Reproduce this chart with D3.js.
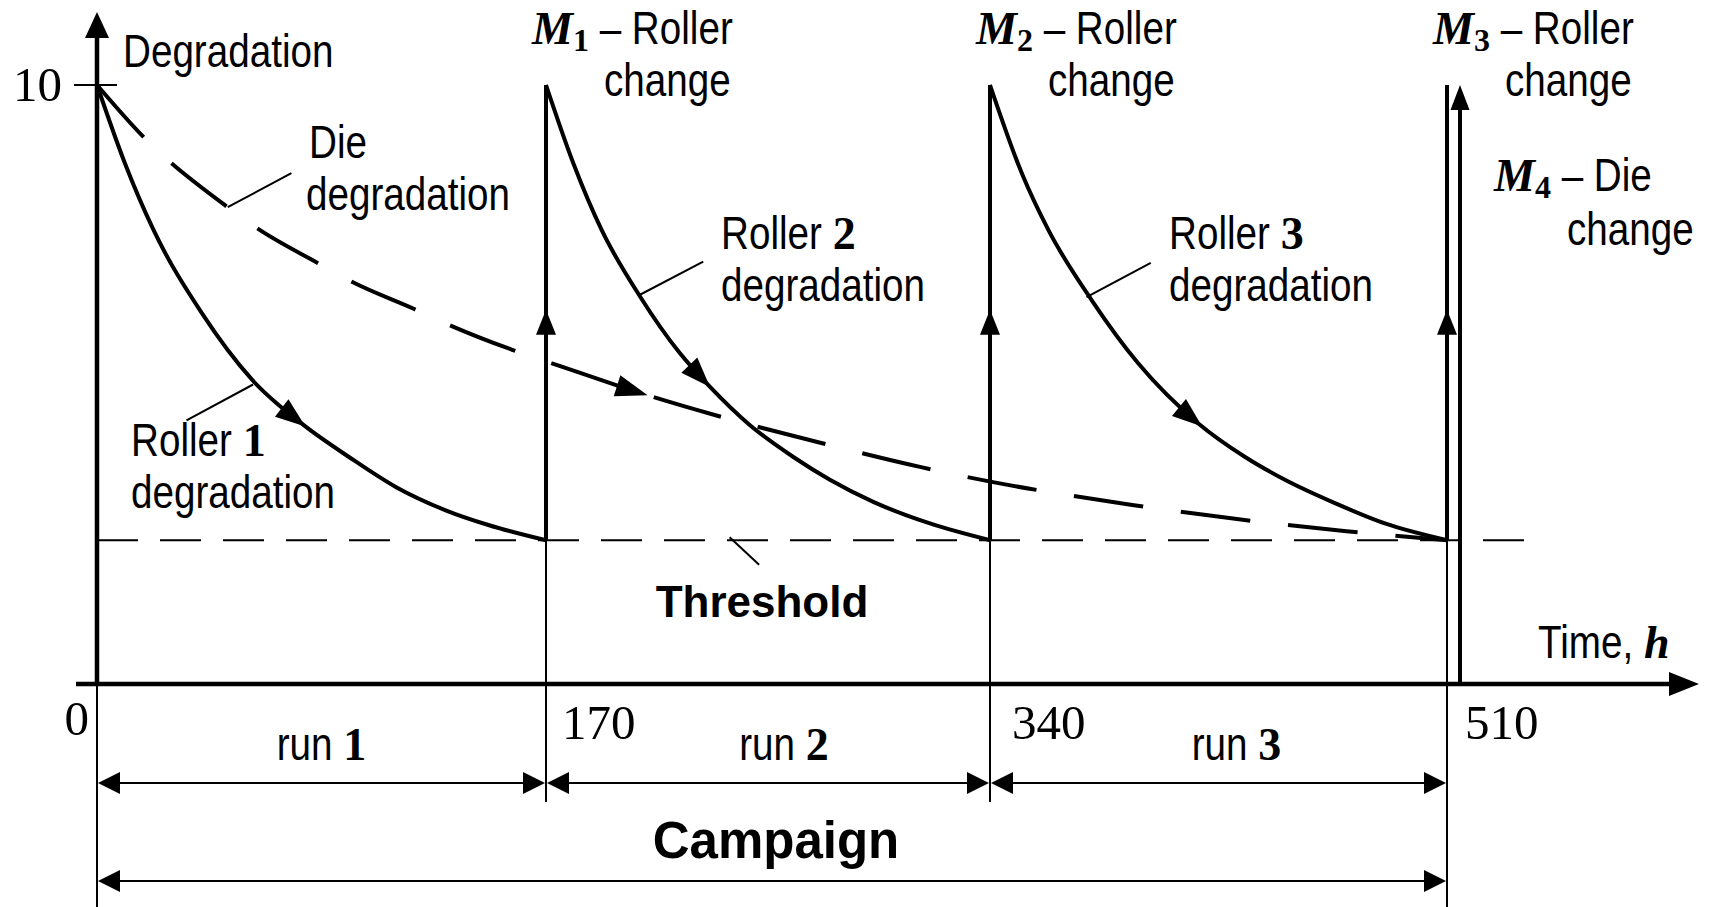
<!DOCTYPE html>
<html>
<head>
<meta charset="utf-8">
<script src="https://cdn.jsdelivr.net/npm/d3@7"></script>
<style>
  body { margin: 0; background: #fff; }
  svg { display: block; }
  text { white-space: pre; }
  .sans { font-family: 'Liberation Sans', Arial, sans-serif; }
  .serif { font-family: 'Liberation Serif', 'Times New Roman', serif; }
  .bold-sans { font-family: 'Liberation Sans', Arial, sans-serif; font-weight: bold; }
</style>
</head>
<body>
<svg id="chart" width="1710" height="907"></svg>
<script>
// Data
const changeTimes = [170, 340, 510] // roller changes M1..M3 (h)
const runs = [[0, 170], [170, 340], [340, 510]]
const maxDegradation = 10
const threshold = 2.4

const roller1Times = [0, 10.6, 21.4, 39.7, 58.7, 78.9, 95.4, 113.1, 132, 148.5, 170]
const roller1Values = [10, 8.69, 7.58, 6.19, 5.08, 4.3, 3.79, 3.29, 2.9, 2.65, 2.4]

const roller2Times = [170, 180.5, 191.3, 206, 221.3, 232.8, 248.1, 264.7, 278.7, 295.3, 317, 340]
const roller2Values = [10, 8.69, 7.58, 6.47, 5.52, 4.96, 4.32, 3.79, 3.41, 3.04, 2.68, 2.4]

const roller3Times = [340, 351.8, 361.7, 377.8, 395.2, 417.5, 434.9, 449.7, 468.3, 486.9, 510]
const roller3Values = [10, 8.53, 7.58, 6.41, 5.35, 4.35, 3.79, 3.41, 3.02, 2.68, 2.4]

const dieTimes = [0, 18.1, 49.5, 61.6, 83.5, 96.7, 120.1, 134.1, 157.2, 171.9, 208.9, 234.6, 273.9, 313.6, 341.1, 366.8, 392.9, 432.6, 472.6, 510]
const dieValues = [10, 9.11, 7.96, 7.58, 7.03, 6.71, 6.26, 5.98, 5.58, 5.36, 4.82, 4.49, 4.04, 3.62, 3.37, 3.17, 2.99, 2.75, 2.55, 2.4]

// where the direction arrows sit on each curve (h)
const rollerArrowTimes = [78.9, 232.8, 418.9]
const dieArrowTime = 208.9
const changeArrowValue = 6.25

const xTickLabels = ['0', '170', '340', '510']

const svg = d3.select('#chart')
// the drawing is not quite evenly spaced, so the time scale is piecewise
const x = d3.scaleLinear().domain([0, 170, 340, 510]).range([97, 546, 990, 1447])
const y = d3.scaleLinear().domain([0, 10]).range([684, 85])

const zip = (ts, vs) => ts.map((t, i) => [t, vs[i]])
const line = d3.line()
  .x(d => x(d[0]))
  .y(d => y(d[1]))
  .curve(d3.curveMonotoneX)

// filled arrow head, tip at (tx, ty), pointing along angle (radians)
function arrowHead(g, tx, ty, angle, len, wid) {
  const c = Math.cos(angle), s = Math.sin(angle)
  const bx = tx - len * c, by = ty - len * s
  const px = -s * wid / 2, py = c * wid / 2
  g.append('path')
    .attr('d', `M${tx},${ty}L${bx + px},${by + py}L${bx - px},${by - py}Z`)
    .attr('fill', '#000')
}

// arrow on a drawn path at given pixel x
function arrowOnPath(g, node, px, len, wid) {
  const total = node.getTotalLength()
  let lo = 0, hi = total
  for (let i = 0; i < 40; i++) {
    const mid = (lo + hi) / 2
    if (node.getPointAtLength(mid).x < px) lo = mid
    else hi = mid
  }
  const p = node.getPointAtLength(lo)
  const q = node.getPointAtLength(Math.max(0, lo - 4))
  arrowHead(g, p.x, p.y, Math.atan2(p.y - q.y, p.x - q.x), len, wid)
}

const g = svg.append('g')

// Axes
const x0 = x(0), yBase = y(0)
g.append('line').attr('x1', x0).attr('x2', x0).attr('y1', yBase).attr('y2', 30)
  .attr('stroke', '#000').attr('stroke-width', 4.5)
arrowHead(g, x0, 12, -Math.PI / 2, 26, 24)
g.append('line').attr('x1', x0).attr('x2', x0).attr('y1', yBase).attr('y2', 907)
  .attr('stroke', '#000').attr('stroke-width', 2)
g.append('line').attr('x1', 76).attr('x2', 1680).attr('y1', yBase).attr('y2', yBase)
  .attr('stroke', '#000').attr('stroke-width', 4.5)
arrowHead(g, 1699, yBase, 0, 30, 24)
// tick at 10
g.append('line').attr('x1', 74).attr('x2', 117).attr('y1', y(maxDegradation)).attr('y2', y(maxDegradation))
  .attr('stroke', '#000').attr('stroke-width', 2.2)

// Threshold
g.append('line')
  .attr('x1', x0).attr('x2', 1543)
  .attr('y1', y(threshold)).attr('y2', y(threshold))
  .attr('stroke', '#000').attr('stroke-width', 2)
  .attr('stroke-dasharray', '41 22')

// Change lines
changeTimes.forEach((t, i) => {
  const cx = x(t)
  g.append('line').attr('x1', cx).attr('x2', cx)
    .attr('y1', y(threshold)).attr('y2', y(maxDegradation))
    .attr('stroke', '#000').attr('stroke-width', 4)
  g.append('line').attr('x1', cx).attr('x2', cx)
    .attr('y1', y(threshold)).attr('y2', i === changeTimes.length - 1 ? 907 : 802)
    .attr('stroke', '#000').attr('stroke-width', 2)
  arrowHead(g, cx, y(changeArrowValue), -Math.PI / 2, 25, 20)
})
// M4 die change line, right next to the last roller change
const dieX = x(510) + 13
g.append('line').attr('x1', dieX).attr('x2', dieX)
  .attr('y1', yBase).attr('y2', y(maxDegradation) + 20)
  .attr('stroke', '#000').attr('stroke-width', 4)
arrowHead(g, dieX, y(maxDegradation), -Math.PI / 2, 25, 19)

// Roller curves
const rollers = [
  zip(roller1Times, roller1Values),
  zip(roller2Times, roller2Values),
  zip(roller3Times, roller3Values)
]
rollers.forEach((data, i) => {
  const p = g.append('path')
    .attr('d', line(data))
    .attr('fill', 'none').attr('stroke', '#000').attr('stroke-width', 4)
  arrowOnPath(g, p.node(), x(rollerArrowTimes[i]), 30, 22)
})

// Die curve
const dieLine = g.append('path')
  .attr('d', line(zip(dieTimes, dieValues)))
  .attr('fill', 'none').attr('stroke', '#000').attr('stroke-width', 4)
  .attr('stroke-dasharray', '70 38')
arrowOnPath(g, dieLine.node(), x(dieArrowTime), 32, 22)

// Leader lines [t1, v1, t2, v2]
const leaders = [
  [49.5, 7.96, 73.6, 8.53],   // die
  [59.1, 5.0, 33.9, 4.4],     // roller 1
  [205.6, 6.49, 230.2, 7.05], // roller 2
  [375.9, 6.46, 399.8, 7.03], // roller 3
  [240.3, 2.45, 251.6, 1.99]  // threshold
]
leaders.forEach(l => {
  g.append('line')
    .attr('x1', x(l[0])).attr('y1', y(l[1]))
    .attr('x2', x(l[2])).attr('y2', y(l[3]))
    .attr('stroke', '#000').attr('stroke-width', 2)
})

// Dimension lines for runs and campaign
function dimension(a, b, yy) {
  g.append('line').attr('x1', x(a) + 5).attr('x2', x(b) - 5).attr('y1', yy).attr('y2', yy)
    .attr('stroke', '#000').attr('stroke-width', 2)
  arrowHead(g, x(a) + 1, yy, Math.PI, 22, 22)
  arrowHead(g, x(b) - 1, yy, 0, 22, 22)
}
runs.forEach(r => dimension(r[0], r[1], 783))
dimension(0, 510, 881)

// Text: pieces laid out one after another; narrow sans is Arial squeezed
const T = svg.append('g')
const SANS = { cls: 'sans', size: 46, narrow: true }
const BOLDNUM = { cls: 'serif', size: 46, weight: 'bold' }
function rich(parts, px, py, anchor) {
  const grp = T.append('g')
  let cx = 0
  parts.forEach(p => {
    const sx = p.narrow ? 0.84 : 1
    const t = grp.append('text')
      .attr('class', p.cls)
      .attr('font-size', p.size)
      .attr('font-weight', p.weight || 'normal')
      .attr('font-style', p.style || 'normal')
      .attr('transform', `translate(${cx},${p.dy || 0}) scale(${sx},1)`)
      .text(p.text)
    cx += t.node().getComputedTextLength() * sx
  })
  const shift = anchor === 'middle' ? -cx / 2 : anchor === 'end' ? -cx : 0
  grp.attr('transform', `translate(${px + shift},${py})`)
}
const sans = txt => Object.assign({ text: txt }, SANS)
const boldNum = txt => Object.assign({ text: txt }, BOLDNUM)
function mLabel(idx, rest, px, py) {
  rich([
    { text: 'M', cls: 'serif', size: 46, weight: 'bold', style: 'italic' },
    { text: idx, cls: 'serif', size: 32, weight: 'bold', dy: 7 },
    sans(' \u2013 ' + rest)
  ], px, py)
}

// Axis labels
rich([sans('Degradation')], x0 + 26, 67)
rich([{ text: '10', cls: 'serif', size: 49 }], x0 - 35, y(maxDegradation) + 16, 'end')
const tickLabelOffsets = [-8, 16, 22, 18]
xTickLabels.forEach((lab, i) => {
  const t = i * 170
  rich([{ text: lab, cls: 'serif', size: 49 }],
    x(t) + tickLabelOffsets[i], i === 0 ? 735 : 739, i === 0 ? 'end' : 'start')
})
rich([sans('Time, '), { text: 'h', cls: 'serif', size: 46, weight: 'bold', style: 'italic' }], 1538, 658)

// Change labels
changeTimes.forEach((t, i) => {
  mLabel(String(i + 1), 'Roller', x(t) - 14, 44)
  rich([sans('change')], x(t) + 58, 96)
})
mLabel('4', 'Die', x(510) + 47, 191)
rich([sans('change')], x(510) + 120, 245)

// Curve labels
rich([sans('Die')], 309, 158)
rich([sans('degradation')], 306, 210)
rich([sans('Roller '), boldNum('1')], 131, 456)
rich([sans('degradation')], 131, 508)
rich([sans('Roller '), boldNum('2')], 721, 249)
rich([sans('degradation')], 721, 301)
rich([sans('Roller '), boldNum('3')], 1169, 249)
rich([sans('degradation')], 1169, 301)

rich([{ text: 'Threshold', cls: 'bold-sans', size: 44, weight: 'bold' }], 762, 617, 'middle')

// Run labels
const runLabelOffsets = [0, 16, 18]
runs.forEach((r, i) => {
  rich([sans('run '), boldNum(String(i + 1))],
    (x(r[0]) + x(r[1])) / 2 + runLabelOffsets[i], 760, 'middle')
})
rich([{ text: 'Campaign', cls: 'bold-sans', size: 51, weight: 'bold' }], 776, 858, 'middle')
</script>
</body>
</html>
